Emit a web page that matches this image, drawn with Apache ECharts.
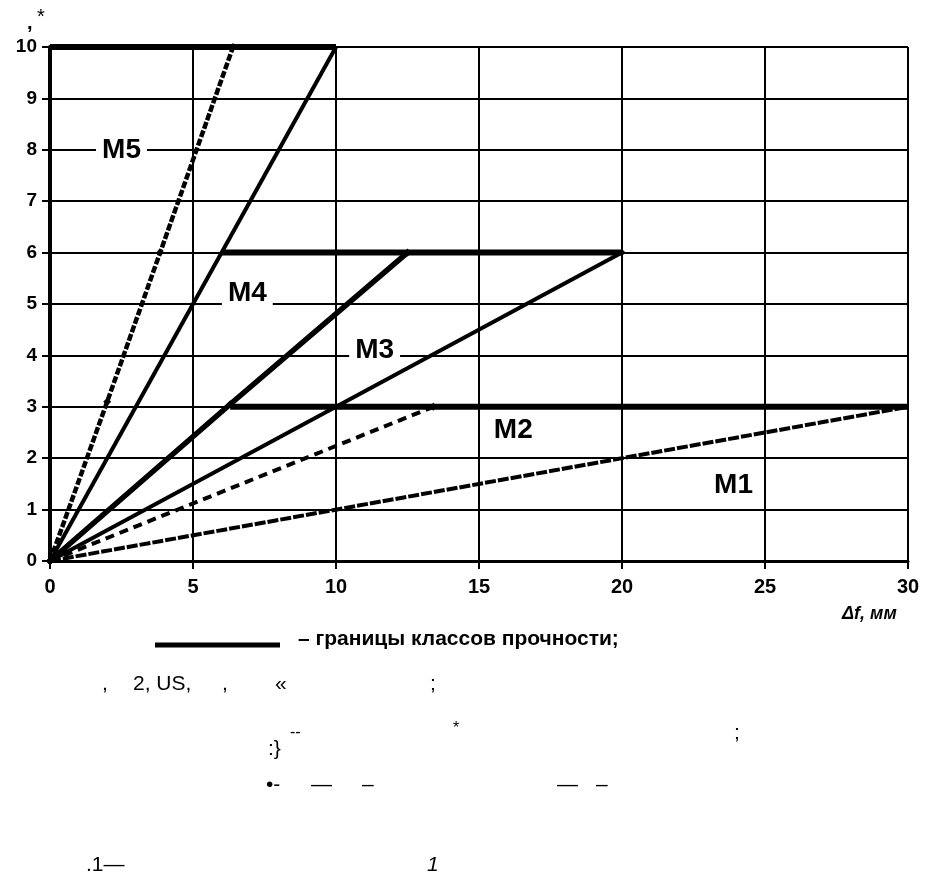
<!DOCTYPE html>
<html>
<head>
<meta charset="utf-8">
<script src="https://cdn.jsdelivr.net/npm/echarts@6/dist/echarts.min.js"></script>
<style>
html,body{margin:0;padding:0;background:#fff;}
#chart{width:928px;height:879px;}
</style>
</head>
<body>
<div id="chart"></div>
<script>
// ---- data ----
const xTicks = [0, 5, 10, 15, 20, 25, 30];
const yTicks = [0, 1, 2, 3, 4, 5, 6, 7, 8, 9, 10];
const lineM5 = [[0, 0], [2, 3.1], [3.85, 6], [6.4, 10]];
const lineM4 = [[0, 0], [10, 10]];
const lineM3a = [[0, 0], [6.3, 3.05], [12.5, 6]];
const lineM3b = [[0, 0], [20, 6]];
const lineM2 = [[0, 0], [13.4, 3]];
const lineM1 = [[0, 0], [30, 3]];
const boundary10 = [[0, 10], [10, 10]];
const boundary6 = [[6, 6], [20, 6]];
const boundary3 = [[6.3, 3], [30, 3]];
const classNames = ['M5', 'M4', 'M3', 'M2', 'M1'];
const classX = [2.5, 6.9, 11.35, 16.2, 23.9];
const classY = [8, 5.2, 4.1, 2.55, 1.48];
const xAxisName = 'Δf, мм';
const legendText = '– границы классов прочности;';

const FONT = '"Liberation Sans", Arial, sans-serif';
const chart = echarts.init(document.getElementById('chart'), null, {renderer: 'canvas'});

function lineSeries(data, width, type, sym, z) {
  return {
    type: 'line', data: data, z: z || 3,
    showSymbol: !!sym, symbol: 'diamond', symbolSize: sym || 0,
    itemStyle: {color: '#000'},
    lineStyle: {color: '#000', width: width, type: type},
    animation: false, silent: true
  };
}

const labelData = classNames.map((n, i) => ({value: [classX[i], classY[i]], name: n}));

const option = {
  backgroundColor: '#fff',
  animation: false,
  grid: {left: 50, right: 20, top: 47, bottom: 318},
  xAxis: {
    type: 'value', min: 0, max: 30, interval: 5,
    axisLine: {show: true, onZero: false, lineStyle: {color: '#000', width: 3}},
    axisTick: {show: true, length: 8, lineStyle: {color: '#000', width: 2}},
    axisLabel: {color: '#000', fontFamily: FONT, fontWeight: 'bold', fontSize: 20, margin: 16,
      formatter: v => xTicks.includes(v) ? String(v) : ''},
    splitLine: {show: true, lineStyle: {color: '#000', width: 2}}
  },
  yAxis: {
    type: 'value', min: 0, max: 10, interval: 1,
    axisLine: {show: true, onZero: false, lineStyle: {color: '#000', width: 4}},
    axisTick: {show: true, length: 8, lineStyle: {color: '#000', width: 2}},
    axisLabel: {color: '#000', fontFamily: FONT, fontWeight: 'bold', fontSize: 19, margin: 13,
      formatter: v => yTicks.includes(v) ? String(v) : ''},
    splitLine: {show: true, lineStyle: {color: '#000', width: 2}}
  },
  series: [
    lineSeries(boundary10, 6, 'solid', 0, 2),
    lineSeries(boundary6, 6, 'solid', 0, 2),
    lineSeries(boundary3, 6, 'solid', 0, 2),
    lineSeries(lineM5, 4.5, [7, 2], 8),
    lineSeries(lineM4, 4, 'solid', 0),
    lineSeries(lineM3a, 5.5, 'solid', 8),
    lineSeries(lineM3b, 4, 'solid', 7),
    lineSeries(lineM2, 4, [9, 6], 8),
    lineSeries(lineM1, 4, [11, 2], 0),
    {
      type: 'scatter', data: labelData, symbolSize: 0, z: 10, silent: true,
      itemStyle: {color: '#000', opacity: 1},
      label: {
        show: true, position: 'inside', formatter: p => p.name,
        color: '#000', opacity: 1, textBorderWidth: 0, textBorderColor: 'transparent',
        fontFamily: FONT, fontWeight: 'bold', fontSize: 28,
        backgroundColor: '#fff', padding: [0, 6]
      }
    }
  ],
  graphic: [
    {type: 'text', left: 37, top: 7, style: {text: '*', font: '20px ' + FONT, fill: '#000'}},
    {type: 'text', left: 27, top: 13, style: {text: ',', font: 'bold 20px ' + FONT, fill: '#000'}},
    {type: 'text', left: 842, top: 605, style: {text: xAxisName, font: 'italic bold 18px ' + FONT, fill: '#000'}},
    {type: 'line', shape: {x1: 155, y1: 645, x2: 280, y2: 645}, style: {stroke: '#000', lineWidth: 5}},
    {type: 'text', left: 298, top: 629, style: {text: legendText, font: 'bold 21px ' + FONT, fill: '#000'}},
    {type: 'text', left: 102, top: 674, style: {text: ',', font: '21px ' + FONT, fill: '#000'}},
    {type: 'text', left: 133, top: 674, style: {text: '2, US,', font: '21px ' + FONT, fill: '#000'}},
    {type: 'text', left: 222, top: 674, style: {text: ',', font: '21px ' + FONT, fill: '#000'}},
    {type: 'text', left: 275, top: 674, style: {text: '«', font: '21px ' + FONT, fill: '#000'}},
    {type: 'text', left: 430, top: 674, style: {text: ';', font: '21px ' + FONT, fill: '#000'}},
    {type: 'text', left: 290, top: 725, style: {text: '--', font: '16px ' + FONT, fill: '#000'}},
    {type: 'text', left: 268, top: 739, style: {text: ':}', font: '21px ' + FONT, fill: '#000'}},
    {type: 'text', left: 453, top: 721, style: {text: '*', font: '16px ' + FONT, fill: '#000'}},
    {type: 'text', left: 734, top: 723, style: {text: ';', font: '21px ' + FONT, fill: '#000'}},
    {type: 'text', left: 266, top: 775, style: {text: '•-', font: '21px ' + FONT, fill: '#000'}},
    {type: 'text', left: 311, top: 775, style: {text: '—', font: '21px ' + FONT, fill: '#000'}},
    {type: 'text', left: 362, top: 775, style: {text: '–', font: '21px ' + FONT, fill: '#000'}},
    {type: 'text', left: 557, top: 775, style: {text: '—', font: '21px ' + FONT, fill: '#000'}},
    {type: 'text', left: 596, top: 775, style: {text: '–', font: '21px ' + FONT, fill: '#000'}},
    {type: 'text', left: 86, top: 855, style: {text: '.1—', font: '21px ' + FONT, fill: '#000'}},
    {type: 'text', left: 427, top: 855, style: {text: '1', font: 'italic 21px ' + FONT, fill: '#000'}}
  ]
};
chart.setOption(option);
</script>
</body>
</html>
